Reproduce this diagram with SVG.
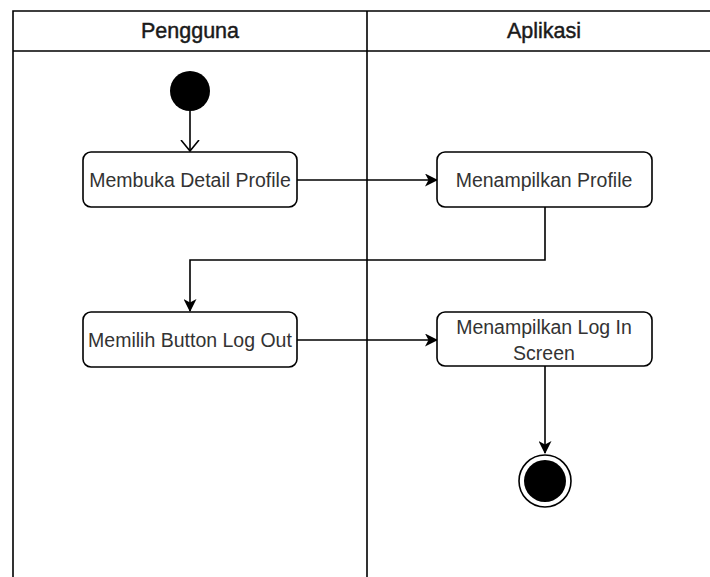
<svg xmlns="http://www.w3.org/2000/svg" width="710" height="577" viewBox="0 0 710 577">
  <style>
    .lane { fill: none; stroke: #000; stroke-width: 1.6; }
    .head { font-family: "Liberation Sans", Arial, sans-serif; font-size: 21.5px; fill: #1a1a1a; stroke: #1a1a1a; stroke-width: 0.45; text-anchor: middle; }
    .box { fill: #fff; stroke: #000; stroke-width: 1.6; }
    .lbl { font-family: "Liberation Sans", Arial, sans-serif; font-size: 19.5px; fill: #333; text-anchor: middle; }
    .edge { fill: none; stroke: #000; stroke-width: 1.6; }
  </style>
  <defs>
    <marker id="block" viewBox="0 0 13 13" refX="12" refY="6.5" markerWidth="13" markerHeight="13" markerUnits="userSpaceOnUse" orient="auto">
      <path d="M0,0 L13,6.5 L0,13 L3.5,6.5 Z" fill="#000"/>
    </marker>
    <marker id="open" viewBox="0 0 12 20" refX="11" refY="10" markerWidth="12" markerHeight="20" markerUnits="userSpaceOnUse" orient="auto">
      <path d="M0,1 L11,10 L0,19" fill="none" stroke="#000" stroke-width="1.6"/>
    </marker>
  </defs>
  <rect width="710" height="577" fill="#fff"/>

  <!-- swimlanes -->
  <g id="lanes">
    <path class="lane" d="M13,577 V11 H712 M13,51 H712 M367,11 V577"/>
    <text class="head" x="190" y="38">Pengguna</text>
    <text class="head" x="544" y="38">Aplikasi</text>
  </g>

  <!-- connectors -->
  <g id="connectors">
    <path class="edge" d="M190,111 V151" marker-end="url(#open)"/>
    <path class="edge" d="M297,180 H437" marker-end="url(#block)"/>
    <path class="edge" d="M545,207 V260 H190 V311" marker-end="url(#block)"/>
    <path class="edge" d="M297,340 H437" marker-end="url(#block)"/>
    <path class="edge" d="M545,366 V453" marker-end="url(#block)"/>
  </g>

  <g id="start">
    <circle cx="190" cy="91" r="20" fill="#000"/>
  </g>

  <g id="membuka-detail-profile">
    <rect class="box" x="83" y="152" width="214" height="55" rx="8"/>
    <text class="lbl" x="190" y="187">Membuka Detail Profile</text>
  </g>

  <g id="menampilkan-profile">
    <rect class="box" x="437" y="152" width="215" height="55" rx="8"/>
    <text class="lbl" x="544" y="187">Menampilkan Profile</text>
  </g>

  <g id="memilih-button-log-out">
    <rect class="box" x="83" y="312" width="214" height="55" rx="8"/>
    <text class="lbl" x="190" y="347">Memilih Button Log Out</text>
  </g>

  <g id="menampilkan-log-in-screen">
    <rect class="box" x="437" y="312" width="215" height="54" rx="8"/>
    <text class="lbl" x="544" y="334">Menampilkan Log In</text>
    <text class="lbl" x="544" y="360">Screen</text>
  </g>

  <g id="end">
    <circle cx="545" cy="481" r="26" fill="#fff" stroke="#000" stroke-width="1.6"/>
    <circle cx="545" cy="481" r="21" fill="#000"/>
  </g>
</svg>
